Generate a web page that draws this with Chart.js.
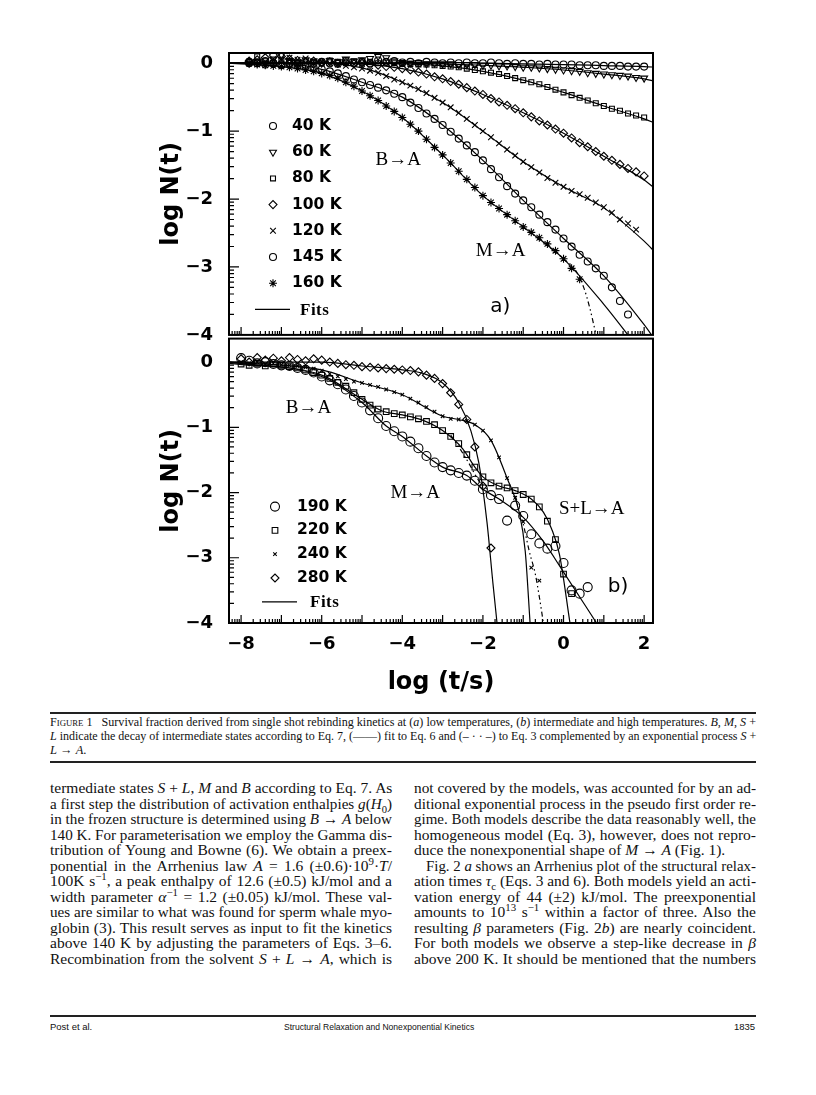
<!DOCTYPE html>
<html>
<head>
<meta charset="utf-8">
<script src="https://cdn.jsdelivr.net/npm/chart.js@4.4.1/dist/chart.umd.min.js"></script>
<style>
  body { margin: 0; background: #fff; width: 816px; height: 1095px; position: relative; overflow: hidden; color: #111; font-family: 'Liberation Serif', serif; }
  .panel { position: absolute; left: 130px; }
  .rule { position: absolute; left: 50px; width: 706px; background: #222; }
  .ln { position: absolute; white-space: nowrap; transform-origin: left center; }
  .ln.j { text-align: justify; text-align-last: justify; }
  .cap { font-size: 12.5px; line-height: 13px; }
  .body { font-size: 15.5px; line-height: 16px; }
  .foot { font-family: 'Liberation Sans', sans-serif; font-size: 9.5px; line-height: 11px; }
  .sc { font-variant: small-caps; }
  sub, sup { font-size: 70%; line-height: 0; }
</style>
</head>
<body>
<div class="panel" style="top:40px"><canvas id="chartA" width="540" height="300"></canvas></div>
<div class="panel" style="top:333px"><canvas id="chartB" width="540" height="372"></canvas></div>

<div class="rule" style="top:712px;height:2px"></div>
<div class="ln j cap" data-w="706" style="left:50px;top:716px"><span class="sc">Figure 1</span>&nbsp;&nbsp; Survival fraction derived from single shot rebinding kinetics at (<i>a</i>) low temperatures, (<i>b</i>) intermediate and high temperatures. <i>B</i>, <i>M</i>, <i>S</i> +</div>
<div class="ln j cap" data-w="706" style="left:50px;top:730px"><i>L</i> indicate the decay of intermediate states according to Eq. 7, (——) fit to Eq. 6 and (– · · –) to Eq. 3 complemented by an exponential process <i>S</i> +</div>
<div class="ln cap" data-w="0" style="left:50px;top:744px"><i>L</i> → <i>A</i>.</div>
<div class="rule" style="top:761px;height:2px"></div>

<div class="ln j body" data-w="342" style="left:50px;top:780px">termediate states <i>S</i> + <i>L</i>, <i>M</i> and <i>B</i> according to Eq. 7. As</div>
<div class="ln j body" data-w="342" style="left:50px;top:795.5px">a first step the distribution of activation enthalpies <i>g</i>(<i>H</i><sub>0</sub>)</div>
<div class="ln j body" data-w="342" style="left:50px;top:811px">in the frozen structure is determined using <i>B</i> → <i>A</i> below</div>
<div class="ln j body" data-w="342" style="left:50px;top:826.5px">140 K. For parameterisation we employ the Gamma dis-</div>
<div class="ln j body" data-w="342" style="left:50px;top:842px">tribution of Young and Bowne (6). We obtain a preex-</div>
<div class="ln j body" data-w="342" style="left:50px;top:857.5px">ponential in the Arrhenius law <i>A</i> = 1.6 (±0.6)·10<sup>9</sup>·<i>T</i>/</div>
<div class="ln j body" data-w="342" style="left:50px;top:873px">100K s<sup>−1</sup>, a peak enthalpy of 12.6 (±0.5) kJ/mol and a</div>
<div class="ln j body" data-w="342" style="left:50px;top:888.5px">width parameter <i>α</i><sup>−1</sup> = 1.2 (±0.05) kJ/mol. These val-</div>
<div class="ln j body" data-w="342" style="left:50px;top:904px">ues are similar to what was found for sperm whale myo-</div>
<div class="ln j body" data-w="342" style="left:50px;top:919.5px">globin (3). This result serves as input to fit the kinetics</div>
<div class="ln j body" data-w="342" style="left:50px;top:935px">above 140 K by adjusting the parameters of Eqs. 3–6.</div>
<div class="ln j body" data-w="342" style="left:50px;top:950.5px">Recombination from the solvent <i>S</i> + <i>L</i> → <i>A</i>, which is</div>

<div class="ln j body" data-w="342" style="left:414px;top:780px">not covered by the models, was accounted for by an ad-</div>
<div class="ln j body" data-w="342" style="left:414px;top:795.5px">ditional exponential process in the pseudo first order re-</div>
<div class="ln j body" data-w="342" style="left:414px;top:811px">gime. Both models describe the data reasonably well, the</div>
<div class="ln j body" data-w="342" style="left:414px;top:826.5px">homogeneous model (Eq. 3), however, does not repro-</div>
<div class="ln body" data-w="0" style="left:414px;top:842px">duce the nonexponential shape of <i>M</i> → <i>A</i> (Fig. 1).</div>
<div class="ln j body" data-w="330" style="left:426px;top:857.5px">Fig. 2 <i>a</i> shows an Arrhenius plot of the structural relax-</div>
<div class="ln j body" data-w="342" style="left:414px;top:873px">ation times <i>τ</i><sub>c</sub> (Eqs. 3 and 6). Both models yield an acti-</div>
<div class="ln j body" data-w="342" style="left:414px;top:888.5px">vation energy of 44 (±2) kJ/mol. The preexponential</div>
<div class="ln j body" data-w="342" style="left:414px;top:904px">amounts to 10<sup>13</sup> s<sup>−1</sup> within a factor of three. Also the</div>
<div class="ln j body" data-w="342" style="left:414px;top:919.5px">resulting <i>β</i> parameters (Fig. 2<i>b</i>) are nearly coincident.</div>
<div class="ln j body" data-w="342" style="left:414px;top:935px">For both models we observe a step-like decrease in <i>β</i></div>
<div class="ln j body" data-w="342" style="left:414px;top:950.5px">above 200 K. It should be mentioned that the numbers</div>

<div class="rule" style="top:1015px;height:1.5px"></div>
<div class="ln foot" data-w="0" style="left:50px;top:1021px">Post et al.</div>
<div class="ln j foot" data-w="190" style="left:284px;top:1021px">Structural Relaxation and Nonexponential Kinetics</div>
<div class="ln foot" data-w="0" style="left:734px;top:1021px">1835</div>

<script>
// axis ticks
const xTickVals = [-8, -6, -4, -2, 0, 2];
const xTickLabels = ['−8', '−6', '−4', '−2', '0', '2'];
const yTickVals = [0, -1, -2, -3, -4];
const yTickLabels = ['0', '−1', '−2', '−3', '−4'];

// log(t/s) sampling of the measured points, shared by both panels
const xA = [-8.0, -7.8, -7.6, -7.4, -7.2, -7.0, -6.8, -6.6, -6.4, -6.2,
            -6.0, -5.8, -5.6, -5.4, -5.2, -5.0, -4.8, -4.6, -4.4, -4.2,
            -4.0, -3.8, -3.6, -3.4, -3.2, -3.0, -2.8, -2.6, -2.4, -2.2,
            -2.0, -1.8, -1.6, -1.4, -1.2, -1.0, -0.8, -0.6, -0.4, -0.2,
             0.0,  0.2,  0.4,  0.6,  0.8,  1.0,  1.2,  1.4,  1.6,  1.8,
             2.0];

// panel a) log N(t), low temperatures
const k40 = [null, 0.00, 0.00, -0.02, 0.00, -0.03, -0.01, 0.00, -0.02, 0.00,
             0.02, 0.00, -0.01, 0.03, 0.00, 0.02, 0.00, 0.04, 0.02, 0.03,
             0.01, 0.02, 0.00, 0.02, 0.01, 0.00, 0.01, 0.00, 0.01, 0.00,
             0.00, 0.01, 0.00, -0.01, 0.00, -0.01, -0.01, -0.02, -0.01, -0.02,
             -0.02, -0.02, -0.03, -0.03, -0.03, -0.04, -0.04, -0.04, -0.05, -0.05,
             -0.05];
const k60 = [null, 0.00, 0.02, 0.00, 0.06, 0.12, 0.04, 0.02, 0.05, 0.03,
             0.00, 0.04, 0.02, 0.06, 0.03, 0.05, 0.07, 0.10, 0.08, 0.03,
             0.01, 0.00, 0.01, -0.01, 0.00, -0.01, -0.01, -0.02, -0.02, -0.02,
             -0.03, -0.03, -0.04, -0.04, -0.05, -0.06, -0.06, -0.07, -0.08, -0.09,
             -0.10, -0.11, -0.12, -0.14, -0.15, -0.16, -0.17, -0.18, -0.19, -0.21,
             -0.22];
const k80 = [null, 0.02, 0.10, 0.03, 0.00, 0.05, 0.02, 0.00, 0.03, 0.01,
             0.00, 0.04, 0.02, 0.00, 0.03, 0.01, 0.02, 0.00, 0.01, 0.00,
             -0.01, -0.01, -0.02, -0.02, -0.03, -0.04, -0.05, -0.06, -0.08, -0.10,
             -0.12, -0.14, -0.16, -0.19, -0.22, -0.25, -0.28, -0.31, -0.35, -0.39,
             -0.43, -0.47, -0.51, -0.55, -0.59, -0.63, -0.67, -0.70, -0.74, -0.77,
             -0.80];
const k100 = [null, 0.03, 0.05, 0.08, 0.12, 0.10, 0.06, 0.04, 0.02, 0.03,
              0.01, 0.02, 0.00, 0.01, -0.01, 0.00, -0.02, -0.03, -0.05, -0.06,
              -0.08, -0.10, -0.13, -0.16, -0.20, -0.23, -0.27, -0.31, -0.36, -0.41,
              -0.46, -0.52, -0.57, -0.62, -0.67, -0.73, -0.79, -0.85, -0.91, -0.97,
              -1.03, -1.10, -1.17, -1.23, -1.30, -1.37, -1.43, -1.49, -1.55, -1.60,
              -1.66];
const k120 = [null, 0.00, 0.02, 0.00, 0.04, 0.06, 0.08, 0.05, 0.07, 0.03,
              0.02, 0.00, -0.02, -0.04, -0.06, -0.08, -0.11, -0.14, -0.19, -0.24,
              -0.28, -0.33, -0.38, -0.44, -0.51, -0.58, -0.65, -0.73, -0.82, -0.91,
              -1.00, -1.09, -1.18, -1.27, -1.36, -1.45, -1.53, -1.61, -1.69, -1.76,
              -1.82, -1.88, -1.93, -1.98, -2.05, -2.12, -2.20, -2.30, -2.36, -2.45,
              null];
const k145 = [null, 0.02, 0.00, 0.03, 0.00, -0.02, 0.00, -0.03, -0.05, -0.07,
              -0.09, -0.12, -0.15, -0.19, -0.24, -0.28, -0.32, -0.36, -0.40, -0.45,
              -0.50, -0.58, -0.66, -0.74, -0.82, -0.91, -1.01, -1.11, -1.21, -1.31,
              -1.43, -1.56, -1.68, -1.81, -1.92, -2.02, -2.12, -2.23, -2.34, -2.45,
              -2.58, -2.70, -2.82, -2.92, -3.02, -3.13, -3.30, -3.50, -3.70, null,
              null];
const k160 = [null, 0.00, -0.02, -0.03, -0.04, -0.05, -0.06, -0.08, -0.10, -0.12,
              -0.15, -0.18, -0.22, -0.28, -0.34, -0.41, -0.48, -0.55, -0.63, -0.71,
              -0.80, -0.90, -1.00, -1.12, -1.24, -1.35, -1.47, -1.59, -1.71, -1.83,
              -1.95, -2.05, -2.14, -2.23, -2.32, -2.41, -2.49, -2.57, -2.66, -2.76,
              -2.88, -3.02, -3.18, null, null, null, null, null, null, null,
              null];

// panel a) fits (Eq. 6) and the Eq. 3 fit for 160 K
const fitXA = [-8.3, -7, -6, -5, -4, -3, -2, -1, 0, 1, 2, 2.3];
const f40 = [0, 0, 0, 0, 0.01, 0.01, 0, -0.01, -0.02, -0.035, -0.05, -0.06];
const f60 = [0, 0, 0, 0, 0, -0.01, -0.03, -0.06, -0.10, -0.16, -0.23, -0.27];
const f80 = [0, 0, 0, 0, -0.01, -0.04, -0.12, -0.25, -0.43, -0.63, -0.82, -0.89];
const f100 = [0, 0, 0, -0.01, -0.08, -0.23, -0.46, -0.73, -1.03, -1.37, -1.72, -1.86];
const f120 = [0, 0, 0, -0.07, -0.28, -0.58, -1.00, -1.45, -1.82, -2.13, -2.62, -2.80];
const f145 = [0, 0, -0.09, -0.28, -0.50, -0.91, -1.43, -2.02, -2.58, -3.13, -3.85, -4.10];
const f160 = [0, -0.05, -0.15, -0.41, -0.80, -1.35, -1.95, -2.41, -2.88, -3.55, -4.30, -4.50];
const dash160X = [-1, 0, 0.3, 0.5, 0.65, 0.75, 0.85];
const dash160Y = [-2.41, -2.88, -3.05, -3.30, -3.60, -3.85, -4.10];

// panel b) log N(t), intermediate and high temperatures
const k190 = [0.06, 0.02, -0.02, 0.00, -0.03, -0.05, -0.06, -0.09, -0.12, -0.16,
              -0.22, -0.28, -0.34, -0.42, -0.52, -0.62, -0.74, -0.86, -0.98, -1.06,
              -1.14, -1.22, -1.32, -1.44, -1.54, -1.61, -1.66, -1.70, -1.74, -1.82,
              -1.95, -2.04, -2.10, -2.43, -2.20, -2.36, -2.64, -2.78, -2.86, -2.82,
              -3.08, -3.50, -3.55, -3.45, null, null, null, null, null, null,
              null];
const k220 = [-0.03, -0.05, -0.02, -0.06, -0.03, -0.05, -0.07, -0.09, -0.12, -0.16,
              -0.20, -0.25, -0.31, -0.37, -0.47, -0.57, -0.66, -0.72, -0.76, -0.79,
              -0.81, -0.84, -0.87, -0.91, -0.96, -1.05, -1.14, -1.25, -1.42, -1.61,
              -1.76, -1.85, -1.90, -1.93, -1.97, -2.03, -2.10, -2.22, -2.44, -2.72,
              -3.25, -3.55, null, null, null, null, null, null, null, null,
              null];
const k240 = [0.00, -0.02, 0.00, -0.03, -0.02, -0.04, -0.05, -0.06, -0.08, -0.10,
              -0.13, -0.18, -0.22, -0.26, -0.30, -0.32, -0.35, -0.38, -0.42, -0.46,
              -0.50, -0.56, -0.62, -0.69, -0.76, -0.83, -0.87, -0.88, -0.90, -0.96,
              -1.05, -1.20, -1.46, -1.78, -2.08, -2.45, -3.15, -3.35, null, null,
              null, null, null, null, null, null, null, null, null, null,
              null];
const k280 = [0.05, 0.00, 0.07, 0.03, 0.06, 0.02, 0.07, 0.04, 0.02, 0.05,
              0.03, 0.00, -0.02, -0.04, -0.05, -0.07, -0.08, -0.09, -0.10, -0.11,
              -0.12, -0.13, -0.15, -0.20, -0.25, -0.33, -0.47, -0.65, -0.88, -1.30,
              -1.90, -2.85, null, null, null, null, null, null, null, null,
              null, null, null, null, null, null, null, null, null, null,
              null];

// panel b) fits
const fit190X = [-8.3, -6, -5, -4.4, -4, -3.4, -3, -2.4, -2, -1.6, -1, -0.5, 0, 0.82];
const fit190Y = [0, -0.22, -0.62, -0.98, -1.14, -1.44, -1.61, -1.74, -1.95, -2.10, -2.38, -2.75, -3.22, -4.0];
const fit220X = [-8.3, -6, -5, -4.5, -4, -3.5, -3, -2.5, -2.2, -2, -1.6, -1.2, -0.8, -0.5, -0.3, -0.1, 0.16];
const fit220Y = [-0.02, -0.20, -0.57, -0.75, -0.81, -0.89, -1.05, -1.33, -1.61, -1.76, -1.90, -1.97, -2.10, -2.30, -2.55, -2.95, -4.0];
const fit240X = [-8.3, -6, -5, -4, -3, -2.6, -2.2, -1.8, -1.4, -1.1, -0.95, -0.83];
const fit240Y = [0, -0.12, -0.32, -0.50, -0.83, -0.88, -0.96, -1.20, -1.78, -2.30, -2.90, -4.0];
const fit280X = [-8.3, -6, -5, -4, -3.5, -3, -2.6, -2.3, -2.1, -1.9, -1.75, -1.65];
const fit280Y = [0, 0, -0.06, -0.12, -0.17, -0.32, -0.62, -1.05, -1.55, -2.45, -3.40, -4.0];
const dash220X = [-2.8, -2.6, -2.35, -2.1, -1.9];
const dash220Y = [-1.12, -1.30, -1.55, -1.82, -1.95];
const dash240X = [-1.2, -1.0, -0.85, -0.7, -0.6, -0.5];
const dash240Y = [-2.05, -2.48, -2.90, -3.25, -3.60, -4.0];

Chart.defaults.font.family = 'DejaVu Sans';
Chart.defaults.color = '#000';

const tickFont = { family: 'DejaVu Sans', size: 18, weight: 'bold' };
const titleFont = { family: 'DejaVu Sans', size: 24, weight: 'bold' };

function pts(xs, ys) {
  return xs.map((x, i) => ({ x: x, y: ys[i] })).filter(p => p.y !== null);
}

function marks(label, ys, style, r, rot) {
  return {
    label: label, data: pts(xA, ys), showLine: false, isData: true,
    pointStyle: style, pointRadius: r, pointRotation: rot || 0,
    pointBorderColor: '#000', pointBackgroundColor: 'rgba(0,0,0,0)', pointBorderWidth: 1.1
  };
}

function fit(xs, ys, dash) {
  return {
    data: pts(xs, ys), showLine: true, pointRadius: 0, borderColor: '#000',
    borderWidth: 1.2, borderDash: dash || [], cubicInterpolationMode: 'monotone'
  };
}

// inward ticks (log-spaced minors) and the box
const frameTicks = {
  id: 'frameTicks',
  afterDraw(chart) {
    const { ctx, chartArea: a, scales: { x, y } } = chart;
    ctx.save();
    ctx.strokeStyle = '#000';
    ctx.lineWidth = 1.2;
    ctx.beginPath();
    for (let n = Math.ceil(x.min); n <= Math.floor(x.max) + 1; n++) {
      if (n <= x.max) {
        const px = x.getPixelForValue(n);
        ctx.moveTo(px, a.bottom); ctx.lineTo(px, a.bottom - 8);
      }
      for (let k = 2; k <= 9; k++) {
        const v = n - 1 + Math.log10(k);
        if (v < x.min || v > x.max) continue;
        const q = x.getPixelForValue(v);
        ctx.moveTo(q, a.bottom); ctx.lineTo(q, a.bottom - 4);
      }
    }
    for (let n = -4; n <= 0; n++) {
      const py = y.getPixelForValue(n);
      ctx.moveTo(a.left, py); ctx.lineTo(a.left + 10, py);
      if (n === -4) continue;
      for (let k = 2; k <= 9; k++) {
        const q = y.getPixelForValue(n - 1 + Math.log10(k));
        ctx.moveTo(a.left, q); ctx.lineTo(a.left + 5, q);
      }
    }
    ctx.stroke();
    ctx.lineWidth = 2;
    ctx.strokeRect(a.left, a.top, a.right - a.left, a.bottom - a.top);
    ctx.restore();
  }
};

// legend with marker glyphs, plus the B->A style labels
const panelNotes = {
  id: 'panelNotes',
  afterDraw(chart, args, opts) {
    const { ctx, chartArea: a, scales: { x, y } } = chart;
    const L = opts.legend;
    ctx.save();
    ctx.strokeStyle = '#000';
    ctx.fillStyle = '#000';
    ctx.textBaseline = 'middle';
    const items = chart.data.datasets.filter(d => d.isData);
    items.forEach((d, i) => {
      const cy = a.top + L.top + i * L.step;
      ctx.fillStyle = 'rgba(0,0,0,0)';
      ctx.lineWidth = 1.1;
      Chart.helpers.drawPoint(ctx, { pointStyle: d.pointStyle, rotation: d.pointRotation, radius: d.pointRadius, borderWidth: 1.1 }, a.left + L.mark, cy);
      ctx.fillStyle = '#000';
      ctx.font = 'bold 15.5px "DejaVu Sans"';
      ctx.textAlign = 'left';
      ctx.fillText(d.label, a.left + L.text, cy);
    });
    const fy = a.top + L.top + items.length * L.step;
    ctx.lineWidth = 1.3;
    ctx.beginPath();
    ctx.moveTo(a.left + L.line[0], fy); ctx.lineTo(a.left + L.line[1], fy);
    ctx.stroke();
    ctx.letterSpacing = '0.5px';
    ctx.font = 'bold 17px "Liberation Serif"';
    ctx.fillText('Fits', a.left + L.fits, fy + 1);
    ctx.letterSpacing = '0px';
    ctx.textAlign = 'center';
    opts.notes.forEach(n => {
      ctx.font = n.font;
      ctx.fillText(n.text, x.getPixelForValue(n.x), y.getPixelForValue(n.y));
    });
    ctx.restore();
  }
};

function makeOptions(showX, yMax, padTop, padBottom, notes, legend) {
  return {
    responsive: false,
    animation: false,
    devicePixelRatio: 1,
    layout: { padding: { left: 0, top: padTop, right: 17, bottom: padBottom } },
    plugins: {
      legend: { display: false },
      tooltip: { enabled: false },
      panelNotes: { notes: notes, legend: legend }
    },
    scales: {
      x: {
        type: 'linear', min: -8.3, max: 2.22, display: showX,
        grid: { display: false, drawTicks: false },
        border: { display: false },
        afterBuildTicks: s => { s.ticks = xTickVals.map(v => ({ value: v })); },
        afterFit: s => {
          s.height = showX ? 82 : 0;
          s.paddingLeft = 0; s.paddingRight = 0; s.paddingTop = 0; s.paddingBottom = 0;
        },
        ticks: { padding: 11, font: tickFont, maxRotation: 0, autoSkip: false,
                 callback: v => xTickLabels[xTickVals.indexOf(v)] },
        title: { display: true, text: 'log (t/s)', font: titleFont, padding: { top: 0, bottom: 7.6 } }
      },
      y: {
        type: 'linear', min: -4, max: yMax,
        grid: { display: false, drawTicks: false },
        border: { display: false },
        afterBuildTicks: s => { s.ticks = yTickVals.map(v => ({ value: v })); },
        afterFit: s => {
          s.width = 99;
          s.paddingLeft = 0; s.paddingRight = 0; s.paddingTop = 0; s.paddingBottom = 0;
        },
        ticks: { padding: 16, font: tickFont, autoSkip: false,
                 callback: v => yTickLabels[yTickVals.indexOf(v)] },
        title: { display: true, text: 'log N(t)', font: titleFont, padding: { top: 27, bottom: 0 } }
      }
    }
  };
}

new Chart(document.getElementById('chartA'), {
  type: 'scatter',
  data: {
    datasets: [
      marks('40 K', k40, 'circle', 3.5),
      marks('60 K', k60, 'triangle', 4, 180),
      marks('80 K', k80, 'rect', 3.5),
      marks('100 K', k100, 'rectRot', 4),
      marks('120 K', k120, 'crossRot', 4),
      marks('145 K', k145, 'circle', 3.5),
      marks('160 K', k160, 'star', 4),
      fit(fitXA, f40), fit(fitXA, f60), fit(fitXA, f80), fit(fitXA, f100),
      fit(fitXA, f120), fit(fitXA, f145), fit(fitXA, f160),
      fit(dash160X, dash160Y, [5, 3, 1.5, 3, 1.5, 3])
    ]
  },
  options: makeOptions(false, 0.15, 13, 5, [
    { text: 'B→A', x: -4.10, y: -1.42, font: '19px "Liberation Serif"' },
    { text: 'M→A', x: -1.56, y: -2.77, font: '19px "Liberation Serif"' },
    { text: 'a)', x: -1.57, y: -3.58, font: '20px "DejaVu Sans"' }
  ], { mark: 44, text: 63, top: 73, step: 26.2, line: [26, 61], fits: 71 }),
  plugins: [frameTicks, panelNotes]
});

new Chart(document.getElementById('chartB'), {
  type: 'scatter',
  data: {
    datasets: [
      marks('190 K', k190, 'circle', 4.5),
      marks('220 K', k220, 'rect', 4),
      marks('240 K', k240, 'crossRot', 2.5),
      marks('280 K', k280, 'rectRot', 4),
      fit(fit190X, fit190Y), fit(fit220X, fit220Y), fit(fit240X, fit240Y), fit(fit280X, fit280Y),
      fit(dash220X, dash220Y, [5, 3, 1.5, 3, 1.5, 3]),
      fit(dash240X, dash240Y, [5, 3, 1.5, 3, 1.5, 3])
    ]
  },
  options: makeOptions(true, 0.36, 2, 0, [
    { text: 'B→A', x: -6.33, y: -0.70, font: '19px "Liberation Serif"' },
    { text: 'M→A', x: -3.68, y: -2.01, font: '19px "Liberation Serif"' },
    { text: 'S+L→A', x: 0.70, y: -2.26, font: '19px "Liberation Serif"' },
    { text: 'b)', x: 1.35, y: -3.45, font: '20px "DejaVu Sans"' }
  ], { mark: 46, text: 68, top: 168, step: 23.8, line: [33, 68], fits: 81 }),
  plugins: [frameTicks, panelNotes]
});

// fit each text line to its column width, like the condensed typesetting
document.querySelectorAll('.ln').forEach(el => {
  const W = parseFloat(el.dataset.w);
  if (!W) return;
  el.style.width = W + 'px';
  const natural = el.scrollWidth;
  if (natural > W + 0.5) {
    el.style.width = natural + 'px';
    el.style.transform = 'scaleX(' + (W / natural) + ')';
  }
});
</script>
</body>
</html>
